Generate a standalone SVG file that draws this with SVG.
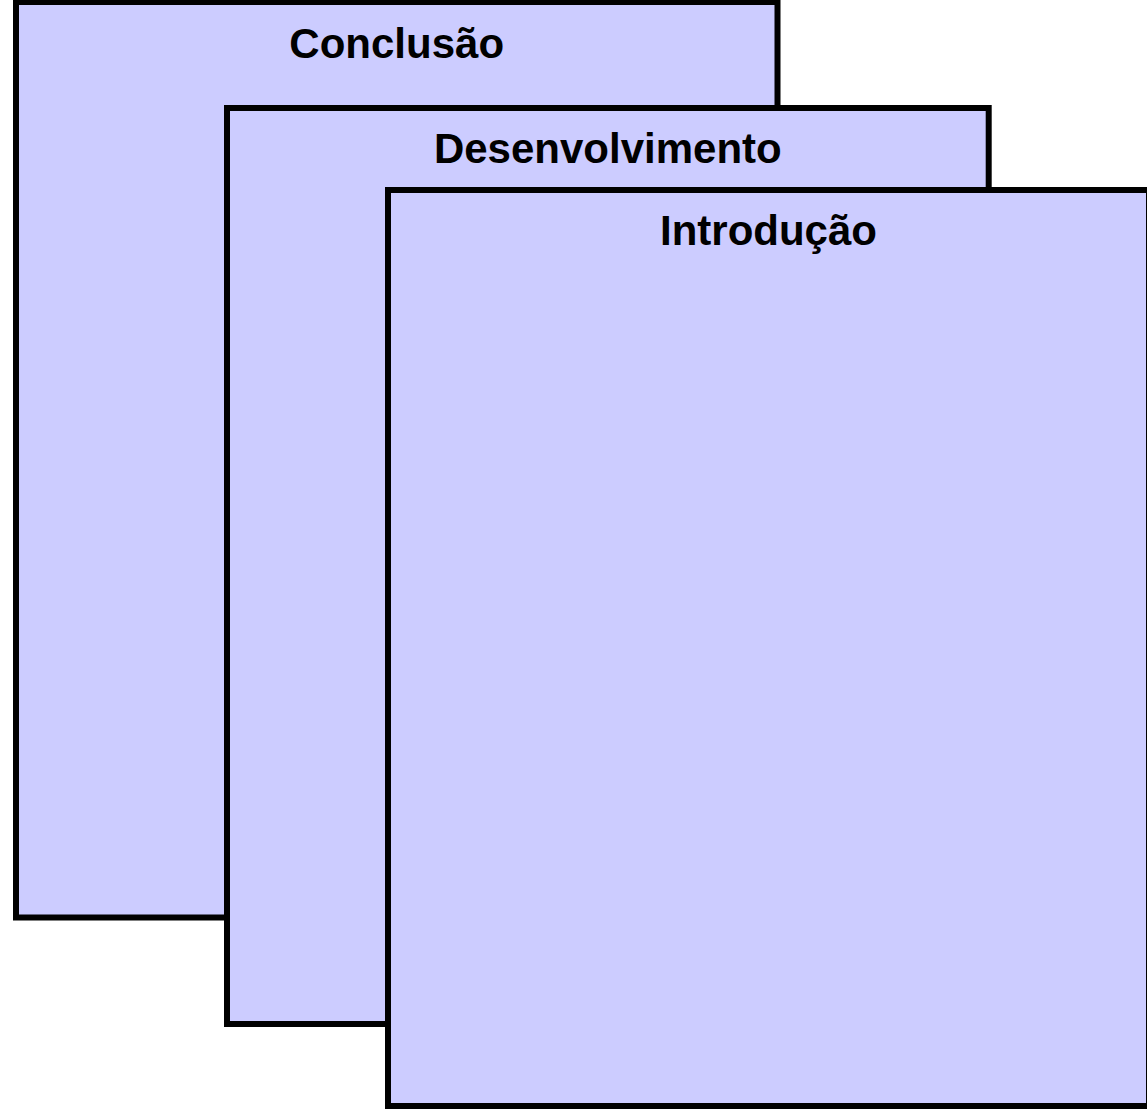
<svg xmlns="http://www.w3.org/2000/svg" width="1147" height="1112" viewBox="0 0 1147 1112">
<style>
.page{fill:#CCCCFF;stroke:#000;stroke-width:6}
.t{font-family:"Liberation Sans",Arial,sans-serif;font-weight:bold;font-size:42px;fill:#000;text-anchor:middle}
</style>
<rect width="1147" height="1112" fill="#fff"/>
<g id="conclusao">
<rect class="page" x="16" y="2" width="761.5" height="915.5"/>
<text class="t" x="396.7" y="58">Conclusão</text>
</g>
<g id="desenvolvimento">
<rect class="page" x="227" y="108" width="761.7" height="916"/>
<text class="t" x="607.8" y="163">Desenvolvimento</text>
</g>
<g id="introducao">
<rect class="page" x="388" y="190" width="761" height="916"/>
<text class="t" x="768.5" y="245">Introdução</text>
</g>
<g id="connectors"/>
</svg>
